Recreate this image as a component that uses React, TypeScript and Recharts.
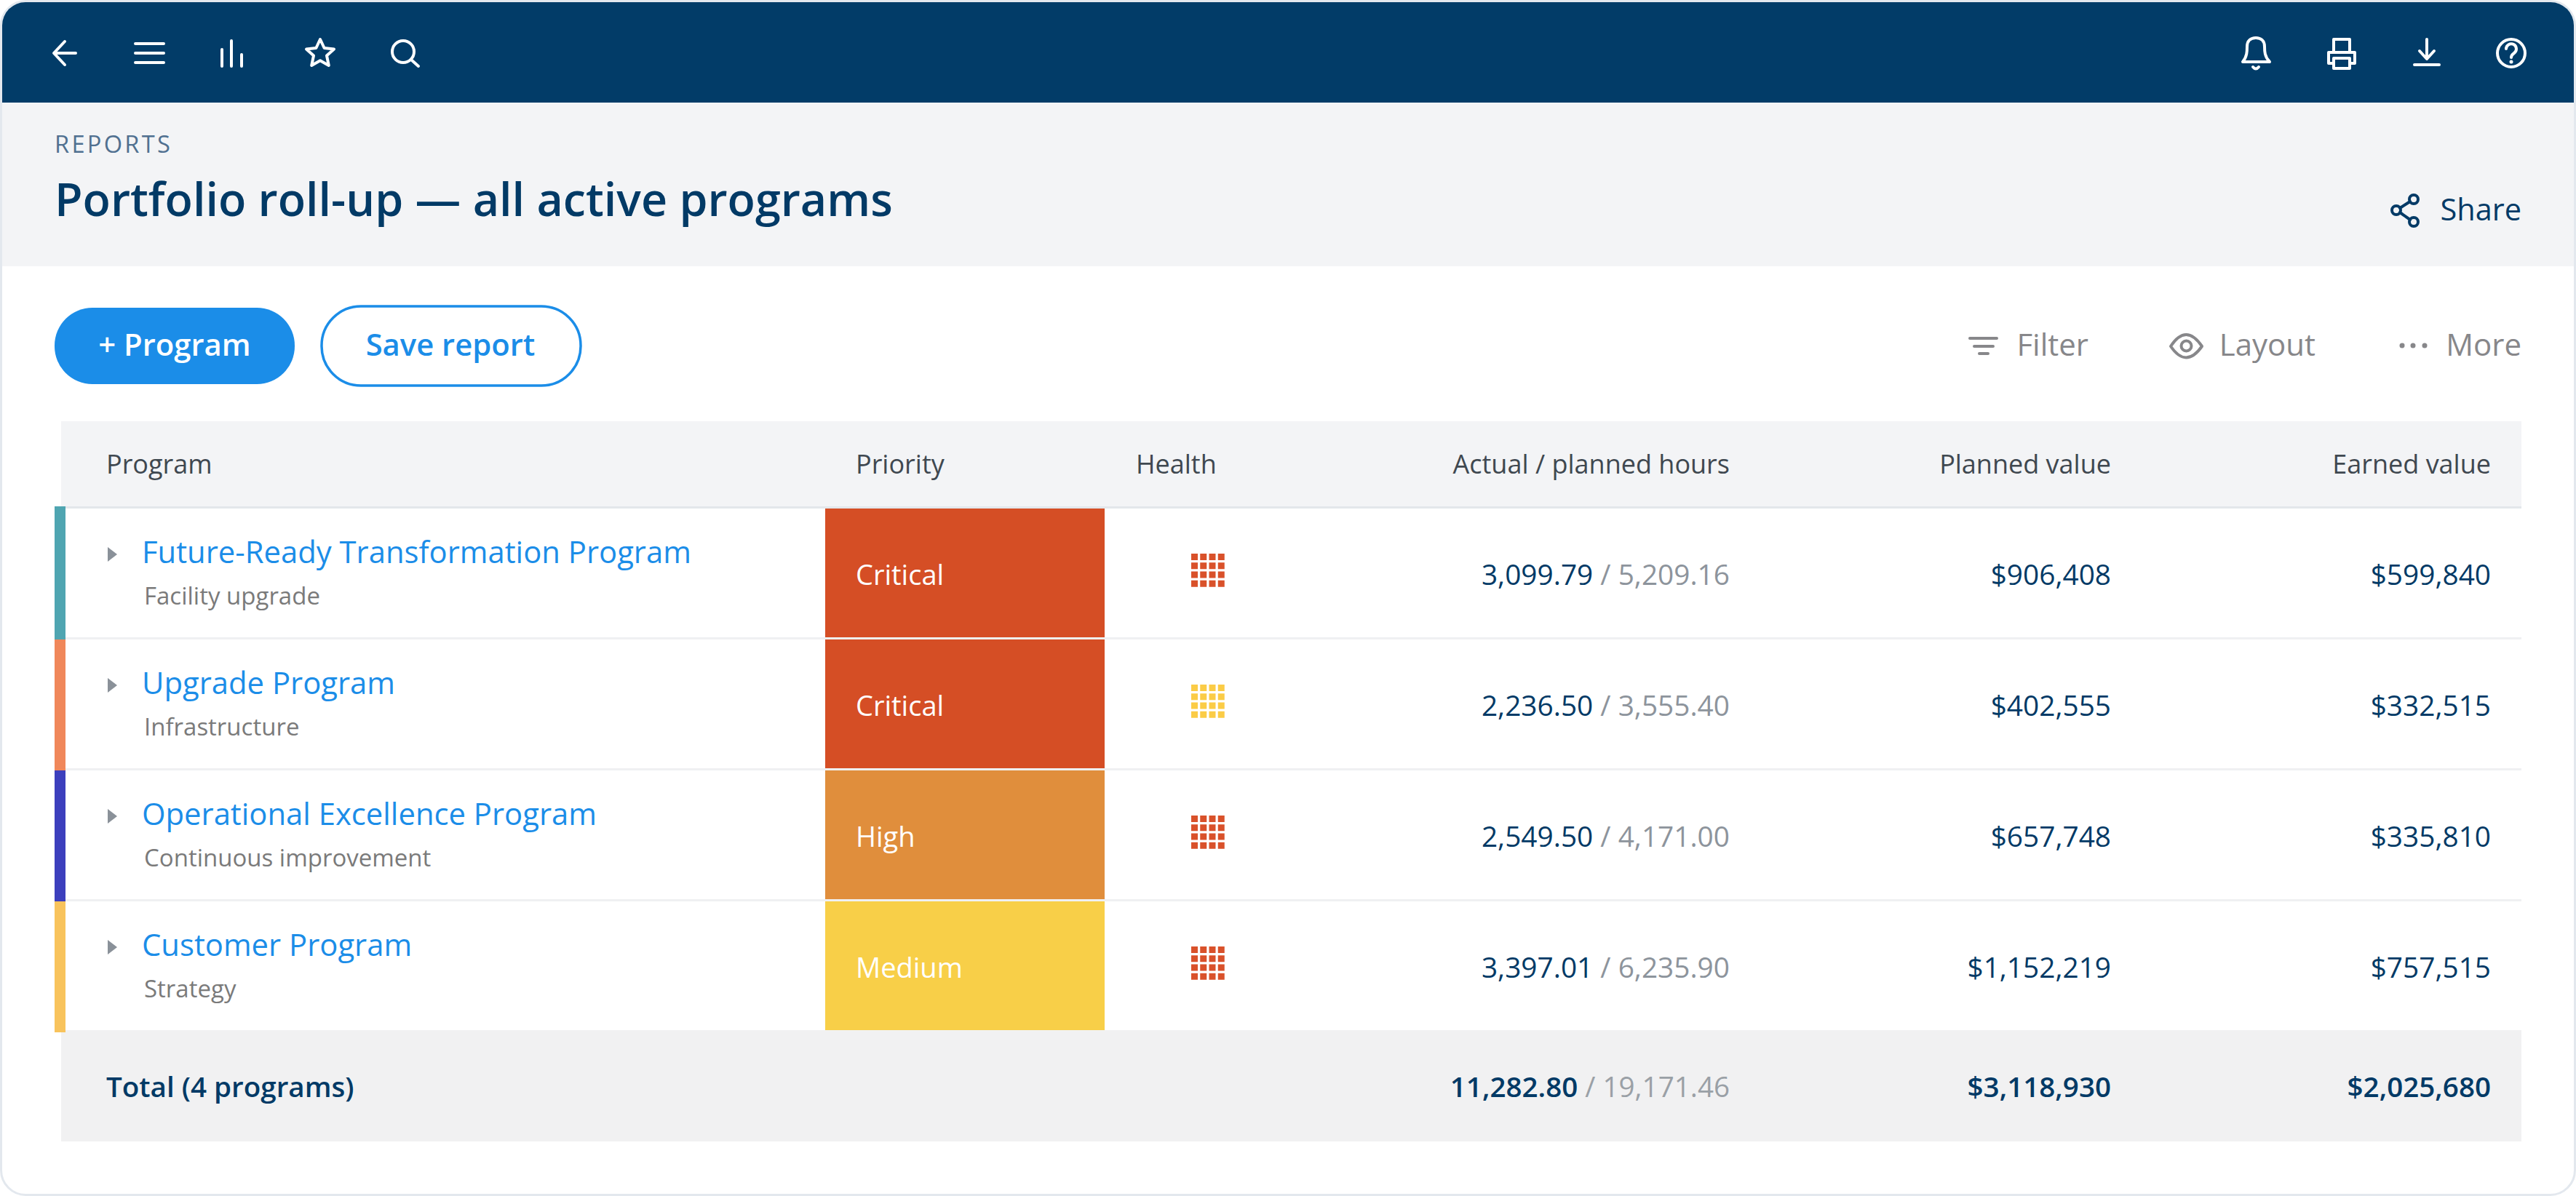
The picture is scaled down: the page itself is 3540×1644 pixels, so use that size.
import React from "react";
import { BarChart, Bar, XAxis, YAxis, Cell, Rectangle } from "recharts";

const programs = [
  "Future-Ready Transformation Program",
  "Upgrade Program",
  "Operational Excellence Program",
  "Customer Program",
];
const subtitles = ["Facility upgrade", "Infrastructure", "Continuous improvement", "Strategy"];
const priorities = ["Critical", "Critical", "High", "Medium"];
const healthStates = ["red", "yellow", "red", "red"];
const actualHours = [3099.79, 2236.5, 2549.5, 3397.01];
const plannedHours = [5209.16, 3555.4, 4171.0, 6235.9];
const plannedValues = [906408, 402555, 657748, 1152219];
const earnedValues = [599840, 332515, 335810, 757515];

const totalLabel = "Total (4 programs)";
const totalActual = 11282.8;
const totalPlanned = 19171.46;
const totalPlannedValue = 3118930;
const totalEarnedValue = 2025680;

const stripColors = ["#4fa5b1", "#f0875a", "#3c3fbd", "#f8c35c"];
const priorityColors: Record<string, string> = {
  Critical: "#d54e25",
  High: "#e08e3c",
  Medium: "#f8cf48",
};
const healthColors: Record<string, string> = { red: "#d9512a", yellow: "#fbcc46" };

const rows = programs.map((program, i) => ({
  program,
  subtitle: subtitles[i],
  priority: priorities[i],
  health: healthStates[i],
  actualHours: actualHours[i],
  plannedHours: plannedHours[i],
  plannedValue: plannedValues[i],
  earnedValue: earnedValues[i],
}));

const FONT = '"Open Sans", sans-serif';
const NAVY = "#023a66";
const BLUE = "#1b8de8";
const GREY = "#87878a";
const WIDTH = 3540;
const HEIGHT = 1644;
const TABLE_RIGHT = 3465;
const PRIORITY_LEFT = 1134;
const PRIORITY_RIGHT = 1518;
const HOURS_RIGHT = 2377;
const PLANNED_RIGHT = 2901;
const EARNED_RIGHT = 3423;

const hoursFmt = (n: number) =>
  n.toLocaleString("en-US", { minimumFractionDigits: 2, maximumFractionDigits: 2 });
const moneyFmt = (n: number) => "$" + n.toLocaleString("en-US");

function Chrome() {
  const icon = { fill: "none", stroke: "#fff", strokeWidth: 4, strokeLinecap: "round", strokeLinejoin: "round" } as const;
  const greyIcon = { ...icon, stroke: GREY };
  const navyIcon = { ...icon, stroke: NAVY };
  const headerText = { fontSize: 36, fill: "#3f4850" };
  return (
    <svg
      width={WIDTH}
      height={HEIGHT}
      style={{ position: "absolute", left: 0, top: 0, fontFamily: FONT }}
    >
      <rect x={1.5} y={1.5} width={WIDTH - 3} height={HEIGHT - 3} rx={34} fill="#fff" stroke="#e3e8ee" strokeWidth={3} />
      <path d={`M3 141 V35 A32 32 0 0 1 35 3 H${WIDTH - 35} A32 32 0 0 1 ${WIDTH - 3} 35 V141 Z`} fill="#023c68" />
      <rect x={3} y={141} width={WIDTH - 6} height={225} fill="#f3f4f6" />

      {/* top bar left */}
      <path d="M104 73 H75 M89 57 L74 73 L89 89" {...icon} />
      <path d="M186 60 H225 M186 73 H225 M186 86 H225" {...icon} />
      <path d="M305 91 V68 M318 91 V56 M332 91 V75" {...icon} />
      <path d="M440 54 L445.6 66 L459 67.6 L449 76.5 L451.8 90 L440 83.2 L428.2 90 L431 76.5 L421 67.6 L434.4 66 Z" {...icon} />
      <circle cx={554} cy={71} r={15} {...icon} />
      <path d="M565 82 L575 91" {...icon} />

      {/* top bar right */}
      <path d="M3082 85 C3088 78 3088 70 3088 64 C3088 56 3093 52 3100 52 C3107 52 3112 56 3112 64 C3112 70 3112 78 3119 85 Z" {...icon} />
      <path d="M3096 92 Q3100 97 3104 92" {...icon} />
      <path d="M3207 70 V54 H3229 V70 M3207 87 H3200 V72 H3236 V87 H3229 M3207 80 H3229 V94 H3207 Z" {...icon} />
      <path d="M3335 54 V80 M3325 70 L3335 81 L3345 70" {...icon} />
      <path d="M3318 89 H3352" {...icon} />
      <circle cx={3451} cy={73} r={19} {...icon} />
      <path d="M3444 67 A7 7 0 1 1 3455 73 C3452 75 3451 76 3451 79" {...icon} />
      <circle cx={3451} cy={85} r={2.5} fill="#fff" />

      {/* page header */}
      <text x={75} y={210} fontSize={32.6} letterSpacing={3.3} fill="#507090">REPORTS</text>
      <text x={75} y={297} fontSize={62.8} fontWeight={600} fill={NAVY}>Portfolio roll-up — all active programs</text>
      <circle cx={3317} cy={274} r={6} {...navyIcon} />
      <circle cx={3293} cy={289} r={6} {...navyIcon} />
      <circle cx={3317} cy={305} r={6} {...navyIcon} />
      <path d="M3312 277 L3298 286 M3298 292 L3312 302" {...navyIcon} />
      <text x={3465} y={303} fontSize={41.5} textAnchor="end" fill={NAVY}>Share</text>

      {/* toolbar */}
      <rect x={75} y={423} width={330} height={105} rx={52} fill={BLUE} />
      <text x={240} y={489} fontSize={41.8} fontWeight={600} textAnchor="middle" fill="#fff">+ Program</text>
      <rect x={442} y={421} width={356} height={109} rx={54} fill="#fff" stroke={BLUE} strokeWidth={3.5} />
      <text x={619} y={489} fontSize={41.8} fontWeight={600} textAnchor="middle" fill={BLUE}>Save report</text>
      <path d="M2707 465 H2744 M2713 476 H2739 M2720 486 H2732" {...greyIcon} />
      <text x={2870} y={489} fontSize={42} textAnchor="end" fill={GREY}>Filter</text>
      <path d="M2983 476 Q3004 444 3026 476 Q3004 507 2983 476 Z" {...greyIcon} />
      <circle cx={3004.5} cy={475.5} r={7} {...greyIcon} />
      <text x={3182} y={489} fontSize={42} textAnchor="end" fill={GREY}>Layout</text>
      <circle cx={3301} cy={475} r={3.5} fill={GREY} />
      <circle cx={3316} cy={475} r={3.5} fill={GREY} />
      <circle cx={3332} cy={475} r={3.5} fill={GREY} />
      <text x={3465} y={489} fontSize={42} textAnchor="end" fill={GREY}>More</text>

      {/* table header */}
      <rect x={84} y={579} width={TABLE_RIGHT - 84} height={117} fill="#f3f4f6" />
      <rect x={84} y={696} width={TABLE_RIGHT - 84} height={3} fill="#e3e7eb" />
      <text x={146} y={651} {...headerText}>Program</text>
      <text x={1176} y={651} {...headerText}>Priority</text>
      <text x={1561} y={651} {...headerText}>Health</text>
      <text x={HOURS_RIGHT} y={651} textAnchor="end" {...headerText}>Actual / planned hours</text>
      <text x={PLANNED_RIGHT} y={651} textAnchor="end" {...headerText}>Planned value</text>
      <text x={EARNED_RIGHT} y={651} textAnchor="end" {...headerText}>Earned value</text>

      {/* total row */}
      <rect x={84} y={1416} width={TABLE_RIGHT - 84} height={153} fill="#f1f1f2" />
      <g fontSize={38.6} fontWeight={600} fill={NAVY}>
        <text x={146} y={1508}>{totalLabel}</text>
        <text x={HOURS_RIGHT} y={1508} textAnchor="end">
          {hoursFmt(totalActual)}
          <tspan fontWeight={400} fill="#9aa0a6"> / {hoursFmt(totalPlanned)}</tspan>
        </text>
        <text x={PLANNED_RIGHT} y={1508} textAnchor="end">{moneyFmt(totalPlannedValue)}</text>
        <text x={EARNED_RIGHT} y={1508} textAnchor="end">{moneyFmt(totalEarnedValue)}</text>
      </g>
    </svg>
  );
}

function ProgramTick({ y, payload, index }: any) {
  const top = y - 90;
  return (
    <g style={{ fontFamily: FONT }}>
      <path d={`M148 ${top + 53} L161 ${top + 63} L148 ${top + 73} Z`} fill="#8a9199" />
      <text x={195} y={top + 75} fontSize={41.8} fill={BLUE}>{payload.value}</text>
      <text x={198} y={top + 132} fontSize={33} fill="#7a7a7a">{subtitles[index]}</text>
    </g>
  );
}

function RowFrame({ y, height, index }: any) {
  const first = index === 0;
  const last = index === programs.length - 1;
  return (
    <g>
      {!last && <rect x={90} y={y + height - 3} width={TABLE_RIGHT - 90} height={3} fill="#eff0f2" />}
      <rect
        x={75}
        y={first ? y - 3 : y}
        width={15}
        height={first ? height + 3 : height}
        fill={stripColors[index]}
      />
    </g>
  );
}

function HealthGrid({ y, payload }: any) {
  const cells: React.ReactElement[] = [];
  for (let r = 0; r < 4; r++) {
    for (let c = 0; c < 4; c++) {
      cells.push(
        <rect
          key={`${r}-${c}`}
          x={1637 + c * 12.25}
          y={y + 62 + r * 12.25}
          width={9}
          height={9}
          fill={healthColors[payload.health]}
        />
      );
    }
  }
  return <g>{cells}</g>;
}

function HoursText({ y, payload }: any) {
  return (
    <text x={HOURS_RIGHT} y={y + 105} fontSize={38.8} textAnchor="end" fill={NAVY} style={{ fontFamily: FONT }}>
      {hoursFmt(payload.actualHours)}
      <tspan fill="#8d949c"> / {hoursFmt(payload.plannedHours)}</tspan>
    </text>
  );
}

const moneyText = (right: number, key: "plannedValue" | "earnedValue") =>
  function MoneyText({ y, payload }: any) {
    return (
      <text x={right} y={y + 105} fontSize={38.8} textAnchor="end" fill={NAVY} style={{ fontFamily: FONT }}>
        {moneyFmt(payload[key])}
      </text>
    );
  };

function PriorityCell(props: any) {
  const { x, y, width, height, payload } = props;
  return (
    <g>
      <Rectangle x={x} y={y} width={width} height={height - 3} fill={priorityColors[payload.priority]} />
      <text x={1176} y={y + 105} fontSize={38} fill="#fff" style={{ fontFamily: FONT }}>
        {payload.priority}
      </text>
    </g>
  );
}

export default function App() {
  return (
    <div style={{ position: "absolute", left: 0, top: 0, width: WIDTH, height: HEIGHT, background: "#fff" }}>
      <Chrome />
      <div style={{ position: "absolute", left: 0, top: 0 }}>
        <BarChart
          layout="vertical"
          width={WIDTH}
          height={HEIGHT}
          data={rows}
          barCategoryGap={0}
          margin={{ top: 699, bottom: HEIGHT - 1419, left: 0, right: WIDTH - TABLE_RIGHT }}
        >
          <XAxis type="number" hide />
          <XAxis
            xAxisId="priority"
            type="number"
            hide
            domain={[0, 1]}
            padding={{ left: 0, right: TABLE_RIGHT - PRIORITY_RIGHT }}
          />
          <YAxis
            type="category"
            dataKey="program"
            width={PRIORITY_LEFT}
            interval={0}
            axisLine={false}
            tickLine={false}
            tick={ProgramTick}
          />
          <Bar xAxisId="priority" dataKey={() => 1} stackId="row" isAnimationActive={false} shape={PriorityCell}>
            {rows.map((r) => (
              <Cell key={r.program} fill={priorityColors[r.priority]} />
            ))}
          </Bar>
          <Bar dataKey="actualHours" stackId="row" isAnimationActive={false} shape={RowFrame} />
          <Bar dataKey={() => 1} stackId="row" isAnimationActive={false} shape={HealthGrid} />
          <Bar dataKey="plannedHours" stackId="row" isAnimationActive={false} shape={HoursText} />
          <Bar dataKey="plannedValue" stackId="row" isAnimationActive={false} shape={moneyText(PLANNED_RIGHT, "plannedValue")} />
          <Bar dataKey="earnedValue" stackId="row" isAnimationActive={false} shape={moneyText(EARNED_RIGHT, "earnedValue")} />
        </BarChart>
      </div>
    </div>
  );
}
